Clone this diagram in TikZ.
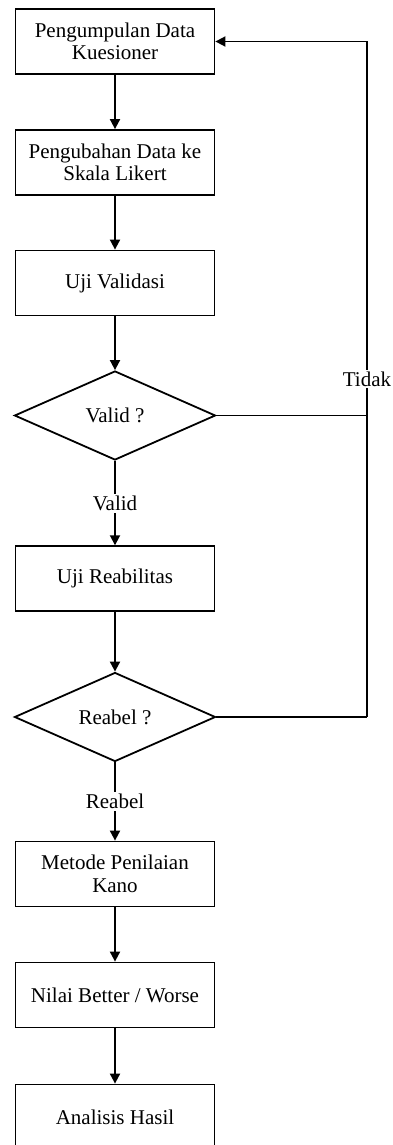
\documentclass[tikz,border=0pt]{standalone}
\usepackage{fontspec}
\setmainfont{Liberation Serif}
\usetikzlibrary{shapes.geometric,arrows.meta}
\begin{document}
\begin{tikzpicture}[x=1pt,y=-1pt,
  every node/.style={font=\fontsize{21}{22.5}\selectfont, align=center, inner sep=0pt},
  procbox/.style={draw, line width=1.8pt, minimum width=199pt, minimum height=65pt},
  decide/.style={draw, diamond, line width=1.8pt, minimum width=201pt, minimum height=89pt, aspect=2.25},
  flow/.style={line width=1.8pt, -{Triangle[width=10pt,length=10pt]}},
  back/.style={line width=1.2pt},
  lbl/.style={fill=white, inner sep=2pt}]
\useasboundingbox (0,0) rectangle (393,1145);
\node[procbox] (b1) at (115,41.5) {Pengumpulan Data\\Kuesioner};
\node[procbox] (b2) at (115,162.5) {Pengubahan Data ke\\Skala Likert};
\node[procbox] (b3) at (115,283) {Uji Validasi};
\node[decide] (d1) at (115,415.5) {Valid ?};
\node[procbox] (b4) at (115,578.7) {Uji Reabilitas};
\node[decide] (d2) at (115,717) {Reabel ?};
\node[procbox] (b5) at (115,874) {Metode Penilaian\\Kano};
\node[procbox] (b6) at (115,995) {Nilai Better / Worse};
\node[procbox] (b7) at (115,1117) {Analisis Hasil};
\coordinate (f1) at (367,415.5);
\coordinate (f2) at (367,717);
\draw[flow] (b1) -- (b2);
\draw[flow] (b2) -- (b3);
\draw[flow] (b3) -- (d1);
\draw[flow] (d1) -- (b4) node[lbl, pos=0.5] (lv) {Valid};
\draw[flow] (b4) -- (d2);
\draw[flow] (d2) -- (b5) node[lbl, pos=0.5] (lr) {Reabel};
\draw[flow] (b5) -- (b6);
\draw[flow] (b6) -- (b7);
\draw[back] (d1.east) -- (f1);
\draw[back] (d2.east) -- (f2);
\draw[flow] (f2) -- (f2 |- b1.east) -- (b1.east);
\node[lbl] (tidak) at (367,379) {Tidak};
\end{tikzpicture}
\end{document}
